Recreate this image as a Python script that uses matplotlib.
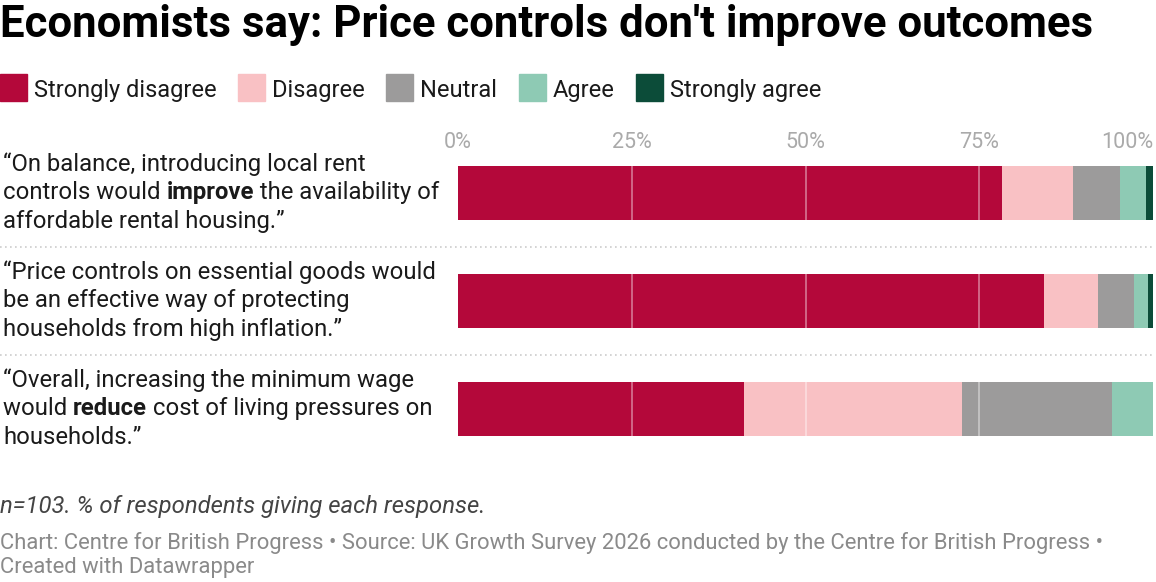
import matplotlib.pyplot as plt
import matplotlib.transforms as mtransforms
import numpy as np

plt.rcParams["font.family"] = ["Roboto", "DejaVu Sans"]

# data: % of respondents per statement
statements = [
    [[("\u201cOn balance, introducing local rent", "normal")],
     [("controls would ", "normal"), ("improve", "bold"), (" the availability of", "normal")],
     [("affordable rental housing.\u201d", "normal")]],
    [[("\u201cPrice controls on essential goods would", "normal")],
     [("be an effective way of protecting", "normal")],
     [("households from high inflation.\u201d", "normal")]],
    [[("\u201cOverall, increasing the minimum wage", "normal")],
     [("would ", "normal"), ("reduce", "bold"), (" cost of living pressures on", "normal")],
     [("households.\u201d", "normal")]],
]
responses = ["Strongly disagree", "Disagree", "Neutral", "Agree", "Strongly agree"]
strongly_disagree = [78.3, 84.3, 41.1]
disagree = [10.1, 7.8, 31.4]
neutral = [6.8, 5.1, 21.6]
agree = [3.8, 2.1, 5.9]
strongly_agree = [1.0, 0.7, 0.0]
ticks = [0, 25, 50, 75, 100]

colors = ["#b4083a", "#f9c1c4", "#9c9b9b", "#8ecab4", "#0c4c39"]

W, H = 1156, 582
fig = plt.figure(figsize=(W / 100, H / 100), dpi=100)

# axes placed in pixel terms
x0, x1 = 458, 1153.3
y_top, y_bot = 139, 462.5
ax = fig.add_axes([x0 / W, 1 - y_bot / H, (x1 - x0) / W, (y_bot - y_top) / H])
ax.set_xlim(0, 100)
ax.set_ylim(2.5, -0.5)
ax.axis("off")

series = [strongly_disagree, disagree, neutral, agree, strongly_agree]
left = np.zeros(len(statements))
ypos = np.arange(len(statements))
for vals, c in zip(series, colors):
    ax.barh(ypos, vals, left=left, height=0.5, color=c, zorder=2)
    left += np.array(vals)

# gridlines over bars
for t in ticks[1:-1]:
    ax.axvline(t, color="white", alpha=0.45, lw=1.2, zorder=3)

# tick labels
for t in ticks:
    ha = "right" if t == 100 else "center"
    ax.text(t, -0.465, f"{t}%", ha=ha, va="center", fontsize=15.5, color="#aaaaaa")

# dotted separators across full width
trans = mtransforms.blended_transform_factory(fig.transFigure, ax.transData)
for s in [0.5, 1.5]:
    ax.plot([0, x1 / W], [s, s], transform=trans, color="#cccccc", lw=1.2,
            ls=(0, (1, 2)), clip_on=False, zorder=1)

# row labels with inline bold
renderer = fig.canvas.get_renderer()
line_h = 28.5
for i, lines in enumerate(statements):
    yc = ax.transData.transform((0, i))[1]
    for j, parts in enumerate(lines):
        ypix = yc + (1 - j) * line_h
        xpix = 3
        for txt, wt in parts:
            t = fig.text(xpix / W, ypix / H, txt, fontsize=17.2, fontweight=wt,
                         color="#1a1a1a", ha="left", va="center")
            bb = t.get_window_extent(renderer=renderer)
            xpix = bb.x1

# title
fig.text(0 / W, 1 - 25 / H, "Economists say: Price controls don't improve outcomes",
         fontsize=31.5, fontweight="bold", color="#000000", ha="left", va="center")

# legend
lx = 0
for name, c in zip(responses, colors):
    fig.patches.append(plt.Rectangle((lx / W, 1 - 101 / H), 27 / W, 27 / H,
                                     transform=fig.transFigure, color=c))
    t = fig.text((lx + 34) / W, 1 - 88 / H, name, fontsize=17, color="#1a1a1a",
                 ha="left", va="center_baseline")
    bb = t.get_window_extent(renderer=renderer)
    lx = bb.x1 + 21.5

# notes and footer
fig.text(0, 1 - 506 / H, "n=103. % of respondents giving each response.",
         fontsize=17.2, style="italic", color="#444444", ha="left", va="center")
fig.text(0, 1 - 543 / H,
         "Chart: Centre for British Progress \u2022 Source: UK Growth Survey 2026 "
         "conducted by the Centre for British Progress \u2022",
         fontsize=15.85, color="#8a8a8a", ha="left", va="center")
fig.text(0, 1 - 568 / H, "Created with Datawrapper",
         fontsize=15.85, color="#8a8a8a", ha="left", va="center")

fig.savefig("out.png", dpi=100)
